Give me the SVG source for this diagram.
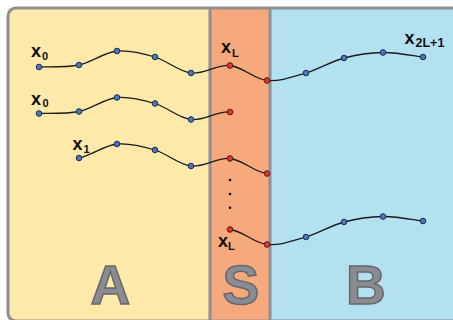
<svg xmlns="http://www.w3.org/2000/svg" width="453" height="320" viewBox="0 0 453 320">
<defs>
<style>
.frame{stroke:#8f8f93;stroke-width:3;fill:none}
.div{stroke:#8f8f93;stroke-width:3}
.chain{fill:none;stroke:#1a1a1a;stroke-width:1.3}
.b{fill:#4b78c2;stroke:#1c2a48;stroke-width:1}
.r{fill:#e2372f;stroke:#5a1512;stroke-width:1}
.lbl{font-family:"Liberation Sans",Arial,sans-serif;font-weight:bold;fill:#111}
.big{font-family:"Liberation Sans",Arial,sans-serif;font-weight:bold;font-size:55px;fill:#8b8b92;stroke:#66666c;stroke-width:1.5;text-anchor:middle}
.dot{fill:#111}
</style>
</defs>
<rect width="453" height="320" fill="#ffffff"/>
<g id="region-A">
<rect x="8" y="8" width="202" height="313" fill="#fde9aa"/>
<text class="big" x="110.3" y="303.5">A</text>
</g>
<g id="region-S">
<rect x="210" y="8" width="60" height="313" fill="#f5a97d"/>
<text class="big" x="240.8" y="303.5">S</text>
</g>
<g id="region-B">
<rect x="270" y="8" width="200" height="313" fill="#b4e1ef"/>
<text class="big" x="365.8" y="303.5">B</text>
</g>
<g id="borders">
<rect class="frame" x="8" y="8" width="470" height="313" rx="8"/>
<line class="div" x1="210" y1="8" x2="210" y2="321"/>
<line class="div" x1="270" y1="8" x2="270" y2="321"/>
</g>
<g id="connectors">
<path id="chain1" class="chain" d="M39,67 C45.7,66.7 66,67.7 79,65 C92,62.3 104.3,52.3 117,51 C129.7,49.7 142.7,53.3 155,57 C167.3,60.7 178.5,71.6 191,73 C203.5,74.4 217.3,64.25 230,65.5 C242.7,66.75 254.3,79.25 267,80.5 C279.7,81.75 293.2,76.75 306,73 C318.8,69.25 331.2,61.4 344,58 C356.8,54.6 369.8,52.7 383,52.5 C396.2,52.3 416.3,56.25 423,57"/>
<path id="chain2" class="chain" transform="translate(0,46.5)" d="M39,67 C45.7,66.7 66,67.7 79,65 C92,62.3 104.3,52.3 117,51 C129.7,49.7 142.7,53.3 155,57 C167.3,60.7 178.5,71.6 191,73 C203.5,74.4 217.3,64.25 230,65.5"/>
<path id="chain3" class="chain" transform="translate(0,93)" d="M79,65 C92,62.3 104.3,52.3 117,51 C129.7,49.7 142.7,53.3 155,57 C167.3,60.7 178.5,71.6 191,73 C203.5,74.4 217.3,64.25 230,65.5 C242.7,66.75 254.3,79.25 267,80.5"/>
<path id="chain4" class="chain" transform="translate(0,164)" d="M230,65.5 C242.7,66.75 254.3,79.25 267,80.5 C279.7,81.75 293.2,76.75 306,73 C318.8,69.25 331.2,61.4 344,58 C356.8,54.6 369.8,52.7 383,52.5 C396.2,52.3 416.3,56.25 423,57"/>
</g>
<g id="nodes-chain1">
<circle class="b" cx="39" cy="67" r="2.8"/>
<circle class="b" cx="79" cy="65" r="2.8"/>
<circle class="b" cx="117" cy="51" r="2.8"/>
<circle class="b" cx="155" cy="57" r="2.8"/>
<circle class="b" cx="191" cy="73" r="2.8"/>
<circle class="r" cx="230" cy="65.5" r="2.8"/>
<circle class="r" cx="267" cy="80.5" r="2.8"/>
<circle class="b" cx="306" cy="73" r="2.8"/>
<circle class="b" cx="344" cy="58" r="2.8"/>
<circle class="b" cx="383" cy="52.5" r="2.8"/>
<circle class="b" cx="423" cy="57" r="2.8"/>
</g>
<g id="nodes-chain2" transform="translate(0,46.5)">
<circle class="b" cx="39" cy="67" r="2.8"/>
<circle class="b" cx="79" cy="65" r="2.8"/>
<circle class="b" cx="117" cy="51" r="2.8"/>
<circle class="b" cx="155" cy="57" r="2.8"/>
<circle class="b" cx="191" cy="73" r="2.8"/>
<circle class="r" cx="230" cy="65.5" r="2.8"/>
</g>
<g id="nodes-chain3" transform="translate(0,93)">
<circle class="b" cx="79" cy="65" r="2.8"/>
<circle class="b" cx="117" cy="51" r="2.8"/>
<circle class="b" cx="155" cy="57" r="2.8"/>
<circle class="b" cx="191" cy="73" r="2.8"/>
<circle class="r" cx="230" cy="65.5" r="2.8"/>
<circle class="r" cx="267" cy="80.5" r="2.8"/>
</g>
<g id="nodes-chain4" transform="translate(0,164)">
<circle class="r" cx="230" cy="65.5" r="2.8"/>
<circle class="r" cx="267" cy="80.5" r="2.8"/>
<circle class="b" cx="306" cy="73" r="2.8"/>
<circle class="b" cx="344" cy="58" r="2.8"/>
<circle class="b" cx="383" cy="52.5" r="2.8"/>
<circle class="b" cx="423" cy="57" r="2.8"/>
</g>
<g id="ellipsis">
<circle class="dot" cx="230" cy="180" r="1.3"/>
<circle class="dot" cx="230" cy="194" r="1.3"/>
<circle class="dot" cx="230" cy="207.7" r="1.3"/>
</g>
<g id="labels">
<text class="lbl" x="31" y="56.5" font-size="18">x<tspan font-size="11" x="42" y="59.5">0</tspan></text>
<text class="lbl" x="31" y="104.5" font-size="18">x<tspan font-size="11" x="42.5" y="107">0</tspan></text>
<text class="lbl" x="72.5" y="150" font-size="18">x<tspan font-size="11" x="83.5" y="152.5">1</tspan></text>
<text class="lbl" x="221" y="53" font-size="18">x<tspan font-size="11" x="232" y="56.5">L</tspan></text>
<text class="lbl" x="404.5" y="44" font-size="18">x<tspan font-size="12.5" x="415.5" y="47">2L+1</tspan></text>
<text class="lbl" x="218" y="246.5" font-size="18">x<tspan font-size="11" x="228" y="249.5">L</tspan></text>
</g>
</svg>
